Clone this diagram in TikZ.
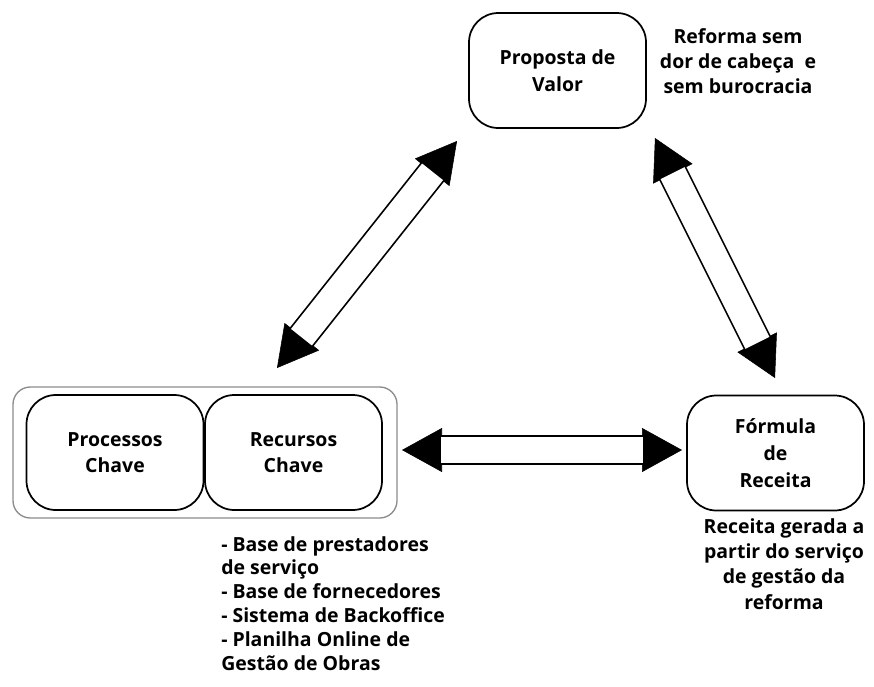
\documentclass[tikz,border=0pt]{standalone}
\usepackage{fontspec}
\setmainfont{Open Sans}
\usetikzlibrary{arrows.meta}
\begin{document}
\begin{tikzpicture}[x=0.75pt,y=-0.75pt,
  every node/.style={font=\bfseries\fontsize{14.6pt}{20pt}\selectfont, align=center, inner sep=0pt},
  block/.style={draw=black, line width=1.3pt, rounded corners=22pt, minimum width=132.75pt, minimum height=86.25pt},
  group/.style={draw=black!45, line width=1pt, rounded corners=13pt, minimum width=288pt, minimum height=98.25pt},
  tips/.style={line width=0.4pt, {Triangle[length=30pt,width=33pt]}-{Triangle[length=30pt,width=33pt]}},
  shaft/.style={line width=1.3pt, double=white, double distance=20pt, shorten <=29.5pt, shorten >=29.5pt},
  note/.style={font=\bfseries\fontsize{14.6pt}{19pt}\selectfont},
  list/.style={font=\bfseries\fontsize{14.6pt}{17.9pt}\selectfont, align=left},
]
\useasboundingbox (0,0) rectangle (874,686);

% value proposition
\node[block] (valor) at (557.5,70.5) {Proposta de\\Valor};
\node[note] (valorTxt) at (738,61) {Reforma sem\\dor de cabeça\ \ e\\sem burocracia};

% key processes and resources, grouped
\node[group] (chave) at (205,452.5) {};
\node[block] (processos) at (115,452.5) {Processos\\Chave};
\node[block] (recursos) at (293.5,452.5) {Recursos\\Chave};
\node[list, anchor=north west] (recursosTxt) at (221,536)
  {- Base de prestadores\\de serviço\\- Base de fornecedores\\- Sistema de Backoffice\\- Planilha Online de\\Gestão de Obras};

% revenue formula
\node[block] (receita) at (775.5,453) {Fórmula\\de\\Receita};
\node[note] (receitaTxt) at (784,564) {Receita gerada a\\partir do serviço\\de gestão da\\reforma};

% arrow end points
\coordinate (aL1) at (277,368);
\coordinate (aL2) at (457,141);
\coordinate (aR1) at (655,138);
\coordinate (aR2) at (775,378);
\coordinate (aH1) at (402,450);
\coordinate (aH2) at (682,450);

% hollow double arrows with solid heads
\draw[tips] (aL1) -- (aL2);
\draw[shaft] (aL1) -- (aL2);
\draw[tips] (aR1) -- (aR2);
\draw[shaft] (aR1) -- (aR2);
\draw[tips] (aH1) -- (aH2);
\draw[shaft] (aH1) -- (aH2);
\end{tikzpicture}
\end{document}
